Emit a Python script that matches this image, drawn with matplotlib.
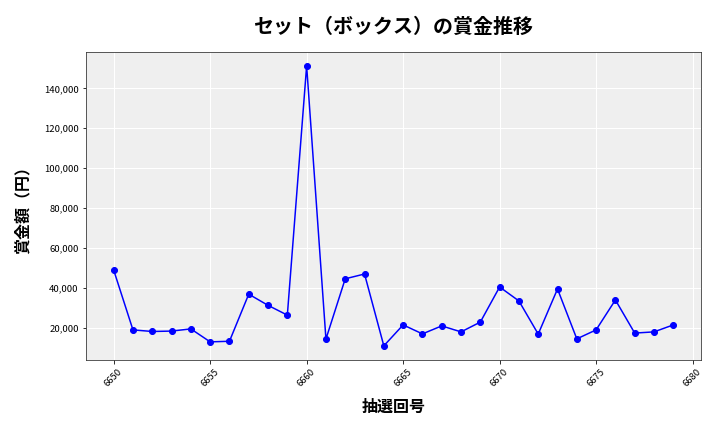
import matplotlib
matplotlib.use("Agg")
import matplotlib.pyplot as plt
import matplotlib.ticker as ticker

plt.rcParams['font.family'] = ['Noto Sans CJK JP', 'DejaVu Sans']

# 抽選回号 and prize amounts (yen)
draws = list(range(6650, 6680))
prizes = [
    49000, 19000, 18200, 18400, 19500, 13000, 13300, 36900, 31300, 26400,
    151300, 14400, 44600, 47000, 11000, 21500, 17000, 21000, 18000, 22900,
    40500, 33500, 16900, 39500, 14500, 19000, 34000, 17400, 18000, 21500,
]

fig, ax = plt.subplots(figsize=(10, 6), dpi=72)
ax.set_facecolor('#efefef')
ax.plot(draws, prizes, marker='o', color='blue', linewidth=1.5, markersize=6)

ax.grid(True, color='white', linewidth=1)
ax.set_axisbelow(True)
for s in ax.spines.values():
    s.set_color('#333333')

ax.set_title("セット（ボックス）の賞金推移", fontsize=20, fontweight='bold', pad=19)
ax.set_xlabel("抽選回号", fontsize=16, fontweight='bold', labelpad=11)
ax.set_ylabel("賞金額（円）", fontsize=16, fontweight='bold', labelpad=13)
ax.yaxis.set_major_formatter(ticker.FuncFormatter(lambda v, p: f"{int(v):,}"))
ax.tick_params(axis='x', labelrotation=45, labelsize=9.5)
ax.tick_params(axis='y', labelsize=9.5)

plt.subplots_adjust(left=0.119, right=0.974, top=0.880, bottom=0.167)
plt.savefig("out.png")
